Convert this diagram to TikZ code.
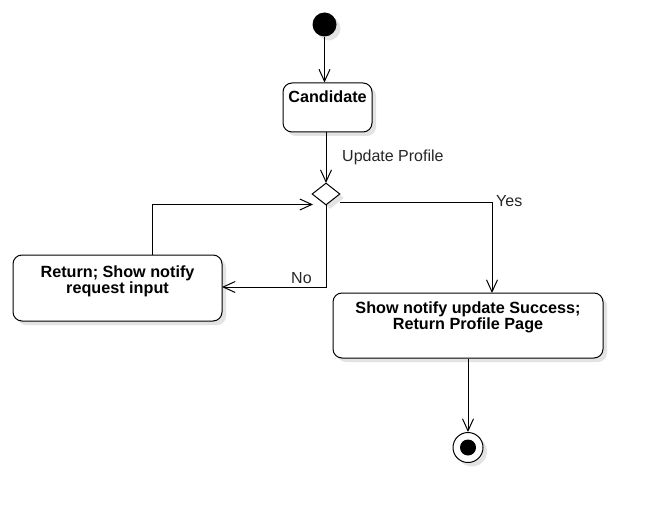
\documentclass[tikz,border=0pt]{standalone}
\usepackage{fontspec}
\setmainfont{Liberation Sans}
\usetikzlibrary{arrows.meta,shapes.geometric,shadows}
\begin{document}
\begin{tikzpicture}[x=1pt,y=-1pt,
  shad/.style={drop shadow={shadow xshift=4pt,shadow yshift=-4pt,fill=black!11,opacity=1}},
  actbox/.style={draw,line width=1pt,rounded corners=9pt,fill=white,shad,inner sep=0pt},
  txt/.style={font=\fontsize{16.2}{15.5}\selectfont\bfseries,align=center,inner sep=0pt},
  lbl/.style={font=\fontsize{16}{15}\selectfont,text=black!85,inner sep=0pt},
  flow/.style={line width=1pt,-{Straight Barb[length=12pt,width=11pt,line width=1pt]}},
  plain/.style={line width=1pt}
]
\useasboundingbox (0,0) rectangle (652,513);
% start
\node[circle,fill=black,minimum size=24pt,inner sep=0pt,shad] (start) at (324.5,24.5) {};
% Candidate
\node[actbox,minimum width=89pt,minimum height=49pt] (cand) at (327.5,107.5) {};
\node[txt,anchor=base] (candt) at (327.5,103) {Candidate};
% decision
\node[diamond,draw,line width=1pt,fill=white,minimum width=28pt,minimum height=22pt,inner sep=0pt,shad] (dec) at (326,194) {};
% left box
\node[actbox,minimum width=209pt,minimum height=66pt] (ret) at (117.5,288) {};
\node[txt,anchor=north] (rett) at (117.5,266) {Return; Show notify\\request input};
% right box
\node[actbox,minimum width=270pt,minimum height=65pt] (succ) at (468,325.5) {};
\node[txt,anchor=north] (succt) at (468,302) {Show notify update Success;\\Return Profile Page};
% end
\node[circle,draw,line width=1pt,fill=white,minimum size=30pt,inner sep=0pt,shad] (fin) at (468,447.5) {};
\node[circle,fill=black,minimum size=16pt,inner sep=0pt] (finin) at (fin.center) {};
% coordinates
\coordinate (c1) at (326,132);
\coordinate (c2) at (326,183);
\coordinate (y0) at (340,202);
\coordinate (y1) at (492,202);
\coordinate (y2) at (492,293);
\coordinate (n0) at (326,205);
\coordinate (n1) at (326,287);
\coordinate (n2) at (222,287);
\coordinate (l0) at (152.5,255);
\coordinate (l1) at (152.5,204.5);
\coordinate (l2) at (313,204.5);
% connectors
\draw[flow] (start.south) -- (start.south |- cand.north);
\draw[flow] (c1) -- (c2);
\draw[flow] (y0) -- (y1) -- (y2);
\draw[flow] (n0) -- (n1) -- (n2);
\draw[flow] (l0) -- (l1) -- (l2);
\draw[flow] (succ.south -| fin.north) -- (fin.north);
% labels
\node[lbl,anchor=base west] (lup) at (342,161) {Update Profile};
\node[lbl,anchor=base west] (lyes) at (496,206) {Yes};
\node[lbl,anchor=base west] (lno) at (291,283) {No};
\end{tikzpicture}
\end{document}
